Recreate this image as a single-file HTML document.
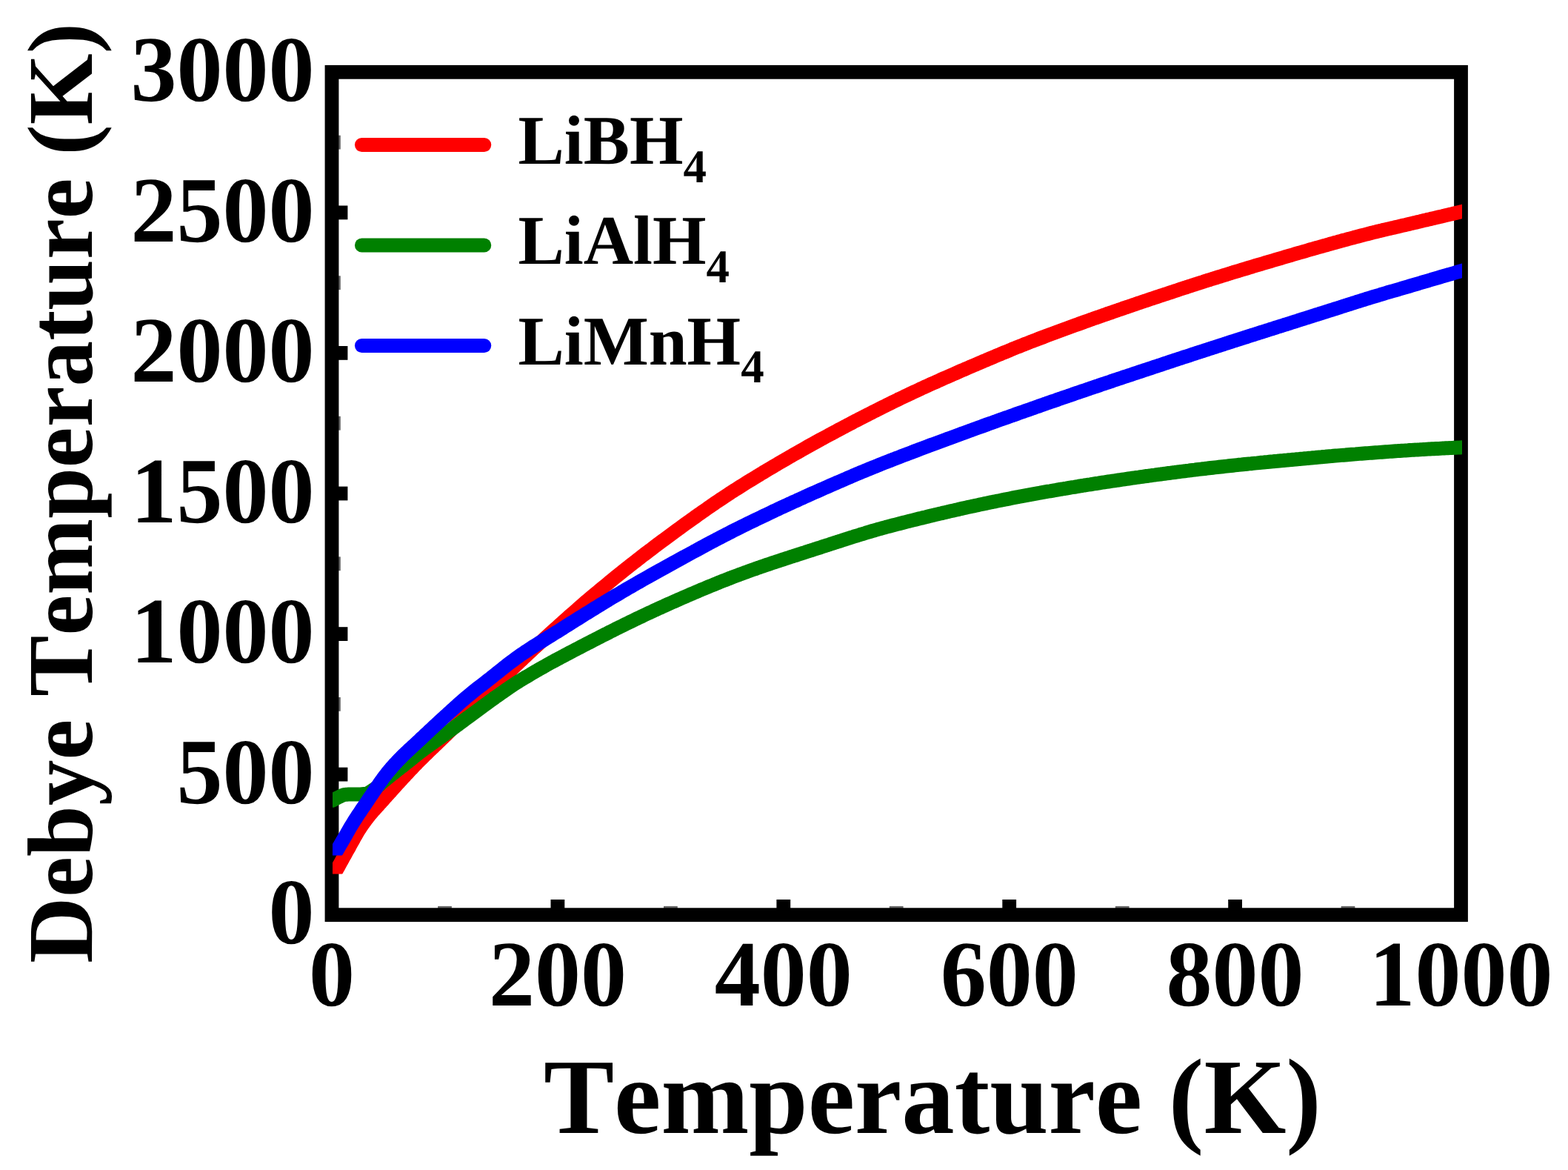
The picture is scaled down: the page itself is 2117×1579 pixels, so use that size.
<!DOCTYPE html>
<html lang="en"><head><meta charset="utf-8"><title>Debye Temperature vs Temperature</title>
<style>
html,body{margin:0;padding:0;background:#fff;}
svg{display:block;width:2117px;height:1579px;}
text{font-family:"Liberation Serif","DejaVu Serif",serif;font-weight:bold;fill:#000;font-kerning:none;font-variant-ligatures:none;text-rendering:geometricPrecision;}
</style></head>
<body>
<svg xmlns="http://www.w3.org/2000/svg" width="2117" height="1579" viewBox="0 0 2117 1579">
<rect x="0" y="0" width="2117" height="1579" fill="#fff"/>
<rect x="448.0" y="97.3" width="1524.5" height="1137.4" fill="none" stroke="#000" stroke-width="18.8"/>
<g fill="#000">
<rect x="456.4" y="1035.7" width="13.0" height="18.8"/>
<rect x="456.4" y="846.2" width="13.0" height="18.8"/>
<rect x="456.4" y="656.6" width="13.0" height="18.8"/>
<rect x="456.4" y="467.0" width="13.0" height="18.8"/>
<rect x="456.4" y="277.5" width="13.0" height="18.8"/>
<rect x="743.5" y="1214.0" width="18.8" height="12.3"/>
<rect x="1048.4" y="1214.0" width="18.8" height="12.3"/>
<rect x="1353.3" y="1214.0" width="18.8" height="12.3"/>
<rect x="1658.2" y="1214.0" width="18.8" height="12.3"/>
</g>
<g fill="#000" opacity="0.6">
<rect x="456.4" y="1130.5" width="3.4" height="18.8"/>
<rect x="456.4" y="941.0" width="3.4" height="18.8"/>
<rect x="456.4" y="751.4" width="3.4" height="18.8"/>
<rect x="456.4" y="561.8" width="3.4" height="18.8"/>
<rect x="456.4" y="372.3" width="3.4" height="18.8"/>
<rect x="456.4" y="182.7" width="3.4" height="18.8"/>
<rect x="591.1" y="1222.9" width="18.8" height="3.4"/>
<rect x="896.0" y="1222.9" width="18.8" height="3.4"/>
<rect x="1200.8" y="1222.9" width="18.8" height="3.4"/>
<rect x="1505.8" y="1222.9" width="18.8" height="3.4"/>
<rect x="1810.6" y="1222.9" width="18.8" height="3.4"/>
</g>
<clipPath id="clip0"><rect x="449" y="97.3" width="1525" height="1082.3"/></clipPath>
<path d="M445.0,1191.2 L446.5,1188.5 L447.9,1185.9 L449.4,1183.2 L450.9,1180.5 L452.4,1177.9 L453.8,1175.2 L455.3,1172.5 L456.8,1169.8 L458.2,1167.2 L459.7,1164.5 L461.2,1161.8 L462.6,1159.2 L464.1,1156.5 L465.6,1153.9 L467.1,1151.2 L468.5,1148.6 L470.0,1146.0 L471.5,1143.4 L472.9,1140.7 L474.4,1138.0 L475.9,1135.3 L477.4,1132.7 L478.8,1130.0 L480.3,1127.4 L481.8,1124.9 L483.2,1122.4 L484.7,1120.0 L486.2,1117.7 L487.6,1115.5 L489.1,1113.4 L490.6,1111.3 L492.1,1109.3 L493.5,1107.3 L495.0,1105.3 L496.5,1103.4 L497.9,1101.6 L499.4,1099.7 L500.9,1097.9 L502.4,1096.2 L503.8,1094.5 L505.3,1092.9 L506.8,1091.3 L508.2,1089.7 L509.7,1088.1 L511.2,1086.4 L512.6,1084.8 L514.1,1083.2 L515.6,1081.5 L517.1,1079.9 L518.5,1078.2 L520.0,1076.6 L521.5,1075.0 L522.9,1073.3 L524.4,1071.7 L525.9,1070.0 L527.4,1068.4 L528.8,1066.8 L530.3,1065.1 L531.8,1063.5 L533.2,1061.9 L534.7,1060.2 L536.2,1058.6 L537.6,1057.0 L539.1,1055.4 L540.6,1053.8 L542.1,1052.2 L543.5,1050.6 L545.0,1049.0 L546.5,1047.4 L547.9,1045.8 L549.4,1044.2 L550.9,1042.7 L552.4,1041.1 L553.8,1039.6 L555.3,1038.0 L556.8,1036.5 L558.2,1034.9 L559.7,1033.4 L561.2,1031.9 L562.6,1030.4 L564.1,1028.9 L565.6,1027.4 L567.1,1025.9 L568.5,1024.5 L570.0,1023.0 L571.5,1021.5 L572.9,1020.1 L574.4,1018.6 L575.9,1017.2 L577.4,1015.8 L578.8,1014.3 L580.3,1012.9 L581.8,1011.5 L583.2,1010.1 L584.7,1008.7 L586.2,1007.3 L587.6,1005.9 L589.1,1004.5 L590.6,1003.1 L592.1,1001.6 L593.5,1000.2 L595.0,998.8 L596.5,997.4 L597.9,996.0 L599.4,994.6 L600.9,993.1 L602.4,991.7 L603.8,990.3 L605.3,988.9 L606.8,987.4 L608.2,986.0 L609.7,984.6 L611.2,983.1 L612.6,981.7 L614.1,980.3 L615.6,978.8 L617.1,977.4 L618.5,976.0 L620.0,974.5 L622.7,971.8 L625.4,969.1 L628.1,966.4 L630.9,963.7 L633.6,961.0 L636.3,958.3 L639.0,955.5 L641.7,952.8 L644.4,950.0 L647.1,947.3 L649.8,944.5 L652.6,941.8 L655.3,939.0 L658.0,936.3 L660.7,933.5 L663.4,930.8 L666.1,928.0 L668.8,925.3 L671.6,922.6 L674.3,919.9 L677.0,917.1 L679.7,914.4 L682.4,911.8 L685.1,909.1 L687.8,906.4 L690.5,903.8 L693.3,901.1 L696.0,898.5 L698.7,895.9 L701.4,893.4 L704.1,890.8 L706.8,888.2 L709.5,885.7 L712.3,883.1 L715.0,880.6 L717.7,878.1 L720.4,875.5 L723.1,873.0 L725.8,870.5 L728.5,868.0 L731.3,865.5 L734.0,863.0 L736.7,860.5 L739.4,858.0 L742.1,855.5 L744.8,853.0 L747.5,850.6 L750.2,848.1 L753.0,845.7 L755.7,843.2 L758.4,840.8 L761.1,838.4 L763.8,835.9 L766.5,833.5 L769.2,831.1 L772.0,828.7 L774.7,826.4 L777.4,824.0 L780.1,821.6 L782.8,819.3 L785.5,816.9 L788.2,814.6 L790.9,812.2 L793.7,809.9 L796.4,807.6 L799.1,805.3 L801.8,803.0 L804.5,800.7 L807.2,798.5 L809.9,796.2 L812.7,794.0 L815.4,791.7 L818.1,789.5 L820.8,787.3 L823.5,785.0 L826.2,782.8 L828.9,780.6 L831.6,778.4 L834.4,776.2 L837.1,774.1 L839.8,771.9 L842.5,769.7 L845.2,767.6 L847.9,765.4 L850.6,763.3 L853.4,761.2 L856.1,759.0 L858.8,756.9 L861.5,754.8 L864.2,752.7 L866.9,750.6 L869.6,748.5 L872.3,746.5 L875.1,744.4 L877.8,742.3 L880.5,740.3 L883.2,738.2 L885.9,736.2 L888.6,734.1 L891.3,732.1 L894.1,730.1 L896.8,728.1 L899.5,726.1 L902.2,724.1 L904.9,722.1 L907.6,720.1 L910.3,718.1 L913.1,716.1 L915.8,714.1 L918.5,712.2 L921.2,710.2 L923.9,708.2 L926.6,706.2 L929.3,704.3 L932.0,702.3 L934.8,700.4 L937.5,698.5 L940.2,696.5 L942.9,694.6 L945.6,692.7 L948.3,690.8 L951.0,688.9 L953.8,687.0 L956.5,685.1 L959.2,683.2 L961.9,681.3 L964.6,679.5 L967.3,677.6 L970.0,675.8 L972.7,674.0 L975.5,672.2 L978.2,670.4 L980.9,668.6 L983.6,666.8 L986.3,665.0 L989.0,663.3 L991.7,661.5 L994.5,659.8 L997.2,658.1 L999.9,656.4 L1002.6,654.7 L1005.3,653.0 L1008.0,651.3 L1010.7,649.6 L1013.4,648.0 L1016.2,646.3 L1018.9,644.7 L1021.6,643.0 L1024.3,641.4 L1027.0,639.7 L1029.7,638.1 L1032.4,636.4 L1035.2,634.8 L1037.9,633.2 L1040.6,631.6 L1043.3,630.0 L1046.0,628.4 L1048.7,626.8 L1051.4,625.2 L1054.1,623.6 L1056.9,622.0 L1059.6,620.5 L1062.3,618.9 L1065.0,617.3 L1067.7,615.8 L1070.4,614.2 L1073.1,612.6 L1075.9,611.1 L1078.6,609.6 L1081.3,608.0 L1084.0,606.5 L1086.7,605.0 L1089.4,603.4 L1092.1,601.9 L1094.8,600.4 L1097.6,598.9 L1100.3,597.4 L1103.0,595.9 L1105.7,594.4 L1108.4,592.9 L1111.1,591.5 L1113.8,590.0 L1116.6,588.5 L1119.3,587.0 L1122.0,585.6 L1124.7,584.1 L1127.4,582.7 L1130.1,581.2 L1132.8,579.8 L1135.6,578.3 L1138.3,576.9 L1141.0,575.5 L1143.7,574.0 L1146.4,572.6 L1149.1,571.2 L1151.8,569.8 L1154.5,568.3 L1157.3,566.9 L1160.0,565.5 L1162.7,564.1 L1165.4,562.7 L1168.1,561.4 L1170.8,560.0 L1173.5,558.6 L1176.3,557.2 L1179.0,555.8 L1181.7,554.5 L1184.4,553.1 L1187.1,551.7 L1189.8,550.4 L1192.5,549.0 L1195.2,547.7 L1198.0,546.3 L1200.7,545.0 L1203.4,543.6 L1206.1,542.3 L1208.8,541.0 L1211.5,539.7 L1214.2,538.3 L1217.0,537.0 L1219.7,535.7 L1222.4,534.4 L1225.1,533.2 L1227.8,531.9 L1230.5,530.6 L1233.2,529.3 L1235.9,528.1 L1238.7,526.8 L1241.4,525.5 L1244.1,524.3 L1246.8,523.0 L1249.5,521.8 L1252.2,520.6 L1254.9,519.3 L1257.7,518.1 L1260.4,516.9 L1263.1,515.7 L1265.8,514.5 L1268.5,513.2 L1271.2,512.0 L1273.9,510.8 L1276.6,509.6 L1279.4,508.4 L1282.1,507.2 L1284.8,506.1 L1287.5,504.9 L1290.2,503.7 L1292.9,502.5 L1295.6,501.3 L1298.4,500.1 L1301.1,499.0 L1303.8,497.8 L1306.5,496.6 L1309.2,495.4 L1311.9,494.3 L1314.6,493.1 L1317.4,491.9 L1320.1,490.8 L1322.8,489.6 L1325.5,488.5 L1328.2,487.3 L1330.9,486.2 L1333.6,485.0 L1336.3,483.9 L1339.1,482.7 L1341.8,481.6 L1344.5,480.4 L1347.2,479.3 L1349.9,478.2 L1352.6,477.0 L1355.3,475.9 L1358.1,474.8 L1360.8,473.7 L1363.5,472.6 L1366.2,471.4 L1368.9,470.3 L1371.6,469.2 L1374.3,468.2 L1377.0,467.1 L1379.8,466.0 L1382.5,464.9 L1385.2,463.8 L1387.9,462.8 L1390.6,461.7 L1393.3,460.7 L1396.0,459.6 L1398.8,458.6 L1401.5,457.5 L1404.2,456.5 L1406.9,455.5 L1409.6,454.5 L1412.3,453.4 L1415.0,452.4 L1417.7,451.4 L1420.5,450.4 L1423.2,449.4 L1425.9,448.4 L1428.6,447.4 L1431.3,446.4 L1434.0,445.4 L1436.7,444.4 L1439.5,443.4 L1442.2,442.4 L1444.9,441.4 L1447.6,440.4 L1450.3,439.4 L1453.0,438.4 L1455.7,437.5 L1458.4,436.5 L1461.2,435.5 L1463.9,434.5 L1466.6,433.6 L1469.3,432.6 L1472.0,431.6 L1474.7,430.7 L1477.4,429.7 L1480.2,428.7 L1482.9,427.8 L1485.6,426.8 L1488.3,425.9 L1491.0,424.9 L1493.7,424.0 L1496.4,423.0 L1499.2,422.1 L1501.9,421.2 L1504.6,420.2 L1507.3,419.3 L1510.0,418.3 L1512.7,417.4 L1515.4,416.5 L1518.1,415.5 L1520.9,414.6 L1523.6,413.7 L1526.3,412.8 L1529.0,411.8 L1531.7,410.9 L1534.4,410.0 L1537.1,409.1 L1539.9,408.2 L1542.6,407.2 L1545.3,406.3 L1548.0,405.4 L1550.7,404.5 L1553.4,403.6 L1556.1,402.7 L1558.8,401.8 L1561.6,400.9 L1564.3,400.0 L1567.0,399.1 L1569.7,398.2 L1572.4,397.3 L1575.1,396.4 L1577.8,395.5 L1580.6,394.6 L1583.3,393.7 L1586.0,392.8 L1588.7,391.9 L1591.4,391.0 L1594.1,390.1 L1596.8,389.2 L1599.5,388.3 L1602.3,387.5 L1605.0,386.6 L1607.7,385.7 L1610.4,384.8 L1613.1,383.9 L1615.8,383.1 L1618.5,382.2 L1621.3,381.3 L1624.0,380.5 L1626.7,379.6 L1629.4,378.7 L1632.1,377.9 L1634.8,377.0 L1637.5,376.2 L1640.2,375.3 L1643.0,374.5 L1645.7,373.6 L1648.4,372.8 L1651.1,371.9 L1653.8,371.1 L1656.5,370.3 L1659.2,369.4 L1662.0,368.6 L1664.7,367.7 L1667.4,366.9 L1670.1,366.1 L1672.8,365.3 L1675.5,364.4 L1678.2,363.6 L1680.9,362.8 L1683.7,362.0 L1686.4,361.2 L1689.1,360.4 L1691.8,359.5 L1694.5,358.7 L1697.2,357.9 L1699.9,357.1 L1702.7,356.3 L1705.4,355.5 L1708.1,354.7 L1710.8,353.9 L1713.5,353.1 L1716.2,352.3 L1718.9,351.5 L1721.7,350.7 L1724.4,349.9 L1727.1,349.1 L1729.8,348.3 L1732.5,347.5 L1735.2,346.7 L1737.9,345.9 L1740.6,345.1 L1743.4,344.3 L1746.1,343.5 L1748.8,342.7 L1751.5,341.9 L1754.2,341.1 L1756.9,340.4 L1759.6,339.6 L1762.4,338.8 L1765.1,338.0 L1767.8,337.2 L1770.5,336.4 L1773.2,335.7 L1775.9,334.9 L1778.6,334.1 L1781.3,333.4 L1784.1,332.6 L1786.8,331.8 L1789.5,331.1 L1792.2,330.3 L1794.9,329.5 L1797.6,328.8 L1800.3,328.0 L1803.1,327.3 L1805.8,326.5 L1808.5,325.8 L1811.2,325.0 L1813.9,324.3 L1816.6,323.6 L1819.3,322.8 L1822.0,322.1 L1824.8,321.4 L1827.5,320.7 L1830.2,319.9 L1832.9,319.2 L1835.6,318.5 L1838.3,317.8 L1841.0,317.1 L1843.8,316.4 L1846.5,315.7 L1849.2,315.0 L1851.9,314.3 L1854.6,313.6 L1857.3,313.0 L1860.0,312.3 L1862.7,311.6 L1865.5,311.0 L1868.2,310.3 L1870.9,309.7 L1873.6,309.1 L1876.3,308.4 L1879.0,307.8 L1881.7,307.2 L1884.5,306.5 L1887.2,305.9 L1889.9,305.3 L1892.6,304.6 L1895.3,304.0 L1898.0,303.4 L1900.7,302.7 L1903.5,302.1 L1906.2,301.4 L1908.9,300.8 L1911.6,300.2 L1914.3,299.5 L1917.0,298.9 L1919.7,298.2 L1922.4,297.6 L1925.2,297.0 L1927.9,296.3 L1930.6,295.7 L1933.3,295.0 L1936.0,294.4 L1938.7,293.8 L1941.4,293.1 L1944.2,292.5 L1946.9,291.9 L1949.6,291.2 L1952.3,290.6 L1955.0,289.9 L1957.7,289.3 L1960.4,288.7 L1963.1,288.0 L1965.9,287.4 L1968.6,286.8 L1971.3,286.1 L1974.0,285.5 L1990.0,281.8" fill="none" stroke="#ff0000" stroke-width="19.0" stroke-linejoin="round" stroke-linecap="butt" clip-path="url(#clip0)"/>
<clipPath id="clip1"><rect x="449" y="97.3" width="1525" height="992.5"/></clipPath>
<path d="M440.0,1084.5 L441.5,1083.8 L443.0,1083.0 L444.5,1082.3 L446.1,1081.6 L447.6,1080.8 L449.1,1080.1 L450.6,1079.3 L452.1,1078.5 L453.6,1077.7 L455.1,1076.9 L456.6,1076.1 L458.2,1075.4 L459.7,1074.7 L461.2,1073.9 L462.7,1073.2 L464.2,1072.6 L465.7,1072.4 L467.2,1072.3 L468.7,1072.2 L470.3,1072.1 L471.8,1072.1 L473.3,1072.0 L474.8,1072.0 L476.3,1072.0 L477.8,1072.0 L479.3,1072.0 L480.8,1072.0 L482.4,1072.0 L483.9,1072.0 L485.4,1072.0 L486.9,1071.9 L488.4,1071.8 L489.9,1071.7 L491.4,1071.5 L492.9,1071.3 L494.5,1071.1 L496.0,1070.7 L497.5,1070.0 L499.0,1069.1 L500.5,1068.1 L502.0,1067.1 L503.5,1066.2 L505.0,1065.1 L506.6,1064.0 L508.1,1062.8 L509.6,1061.6 L511.1,1060.3 L512.6,1059.0 L514.1,1057.6 L515.6,1056.3 L517.1,1055.0 L518.7,1053.7 L520.2,1052.5 L521.7,1051.2 L523.2,1050.0 L524.7,1048.8 L526.2,1047.6 L527.7,1046.4 L529.2,1045.2 L530.8,1044.0 L532.3,1042.8 L533.8,1041.6 L535.3,1040.4 L536.8,1039.2 L538.3,1038.0 L539.8,1036.8 L541.3,1035.6 L542.9,1034.5 L544.4,1033.3 L545.9,1032.1 L547.4,1030.9 L548.9,1029.7 L550.4,1028.5 L551.9,1027.3 L553.4,1026.1 L555.0,1024.9 L556.5,1023.7 L558.0,1022.4 L559.5,1021.2 L561.0,1020.0 L562.5,1018.8 L564.0,1017.6 L565.5,1016.4 L567.1,1015.2 L568.6,1014.1 L570.1,1012.9 L571.6,1011.8 L573.1,1010.7 L574.6,1009.6 L576.1,1008.5 L577.6,1007.4 L579.2,1006.3 L580.7,1005.2 L582.2,1004.1 L583.7,1003.0 L585.2,1002.0 L586.7,1000.9 L588.2,999.8 L589.7,998.8 L591.3,997.7 L592.8,996.7 L594.3,995.6 L595.8,994.5 L597.3,993.4 L598.8,992.3 L600.3,991.3 L601.8,990.2 L603.4,989.1 L604.9,988.0 L606.4,986.9 L607.9,985.8 L609.4,984.7 L610.9,983.5 L612.4,982.4 L613.9,981.3 L615.5,980.2 L617.0,979.1 L618.5,978.0 L620.0,976.9 L622.7,974.9 L625.4,972.9 L628.1,970.8 L630.9,968.8 L633.6,966.8 L636.3,964.8 L639.0,962.8 L641.7,960.8 L644.4,958.8 L647.1,956.8 L649.8,954.8 L652.6,952.8 L655.3,950.8 L658.0,948.9 L660.7,946.9 L663.4,944.9 L666.1,943.0 L668.8,941.0 L671.6,939.1 L674.3,937.2 L677.0,935.3 L679.7,933.4 L682.4,931.5 L685.1,929.7 L687.8,927.8 L690.5,925.9 L693.3,924.1 L696.0,922.3 L698.7,920.6 L701.4,918.9 L704.1,917.3 L706.8,915.6 L709.5,914.0 L712.3,912.4 L715.0,910.8 L717.7,909.2 L720.4,907.6 L723.1,906.0 L725.8,904.5 L728.5,902.9 L731.3,901.4 L734.0,899.9 L736.7,898.3 L739.4,896.8 L742.1,895.3 L744.8,893.8 L747.5,892.4 L750.2,890.9 L753.0,889.4 L755.7,888.0 L758.4,886.5 L761.1,885.1 L763.8,883.6 L766.5,882.2 L769.2,880.8 L772.0,879.3 L774.7,877.9 L777.4,876.5 L780.1,875.1 L782.8,873.7 L785.5,872.3 L788.2,870.9 L790.9,869.5 L793.7,868.1 L796.4,866.7 L799.1,865.3 L801.8,863.9 L804.5,862.5 L807.2,861.1 L809.9,859.7 L812.7,858.3 L815.4,856.9 L818.1,855.6 L820.8,854.2 L823.5,852.8 L826.2,851.5 L828.9,850.1 L831.6,848.7 L834.4,847.4 L837.1,846.0 L839.8,844.7 L842.5,843.4 L845.2,842.0 L847.9,840.7 L850.6,839.4 L853.4,838.1 L856.1,836.8 L858.8,835.4 L861.5,834.1 L864.2,832.9 L866.9,831.6 L869.6,830.3 L872.3,829.0 L875.1,827.7 L877.8,826.5 L880.5,825.2 L883.2,823.9 L885.9,822.7 L888.6,821.4 L891.3,820.2 L894.1,819.0 L896.8,817.7 L899.5,816.5 L902.2,815.3 L904.9,814.1 L907.6,812.9 L910.3,811.7 L913.1,810.5 L915.8,809.3 L918.5,808.1 L921.2,806.9 L923.9,805.7 L926.6,804.6 L929.3,803.4 L932.0,802.2 L934.8,801.1 L937.5,799.9 L940.2,798.7 L942.9,797.6 L945.6,796.4 L948.3,795.3 L951.0,794.2 L953.8,793.0 L956.5,791.9 L959.2,790.8 L961.9,789.7 L964.6,788.6 L967.3,787.5 L970.0,786.4 L972.7,785.3 L975.5,784.2 L978.2,783.2 L980.9,782.1 L983.6,781.0 L986.3,780.0 L989.0,778.9 L991.7,777.9 L994.5,776.9 L997.2,775.9 L999.9,774.8 L1002.6,773.8 L1005.3,772.8 L1008.0,771.9 L1010.7,770.9 L1013.4,769.9 L1016.2,768.9 L1018.9,768.0 L1021.6,767.0 L1024.3,766.1 L1027.0,765.1 L1029.7,764.2 L1032.4,763.3 L1035.2,762.3 L1037.9,761.4 L1040.6,760.5 L1043.3,759.6 L1046.0,758.7 L1048.7,757.8 L1051.4,756.9 L1054.1,756.0 L1056.9,755.1 L1059.6,754.2 L1062.3,753.3 L1065.0,752.5 L1067.7,751.6 L1070.4,750.7 L1073.1,749.8 L1075.9,749.0 L1078.6,748.1 L1081.3,747.2 L1084.0,746.3 L1086.7,745.5 L1089.4,744.6 L1092.1,743.7 L1094.8,742.9 L1097.6,742.0 L1100.3,741.1 L1103.0,740.2 L1105.7,739.4 L1108.4,738.5 L1111.1,737.6 L1113.8,736.7 L1116.6,735.8 L1119.3,735.0 L1122.0,734.1 L1124.7,733.2 L1127.4,732.3 L1130.1,731.4 L1132.8,730.6 L1135.6,729.7 L1138.3,728.8 L1141.0,727.9 L1143.7,727.1 L1146.4,726.2 L1149.1,725.3 L1151.8,724.5 L1154.5,723.6 L1157.3,722.8 L1160.0,722.0 L1162.7,721.1 L1165.4,720.3 L1168.1,719.5 L1170.8,718.6 L1173.5,717.8 L1176.3,717.0 L1179.0,716.2 L1181.7,715.5 L1184.4,714.7 L1187.1,713.9 L1189.8,713.2 L1192.5,712.4 L1195.2,711.7 L1198.0,710.9 L1200.7,710.2 L1203.4,709.5 L1206.1,708.8 L1208.8,708.1 L1211.5,707.4 L1214.2,706.7 L1217.0,706.0 L1219.7,705.3 L1222.4,704.6 L1225.1,703.9 L1227.8,703.2 L1230.5,702.6 L1233.2,701.9 L1235.9,701.2 L1238.7,700.5 L1241.4,699.8 L1244.1,699.2 L1246.8,698.5 L1249.5,697.9 L1252.2,697.2 L1254.9,696.5 L1257.7,695.9 L1260.4,695.2 L1263.1,694.6 L1265.8,693.9 L1268.5,693.3 L1271.2,692.7 L1273.9,692.0 L1276.6,691.4 L1279.4,690.8 L1282.1,690.1 L1284.8,689.5 L1287.5,688.9 L1290.2,688.3 L1292.9,687.7 L1295.6,687.0 L1298.4,686.4 L1301.1,685.8 L1303.8,685.2 L1306.5,684.6 L1309.2,684.0 L1311.9,683.4 L1314.6,682.9 L1317.4,682.3 L1320.1,681.7 L1322.8,681.1 L1325.5,680.5 L1328.2,679.9 L1330.9,679.4 L1333.6,678.8 L1336.3,678.2 L1339.1,677.7 L1341.8,677.1 L1344.5,676.6 L1347.2,676.0 L1349.9,675.5 L1352.6,674.9 L1355.3,674.4 L1358.1,673.8 L1360.8,673.3 L1363.5,672.8 L1366.2,672.2 L1368.9,671.7 L1371.6,671.2 L1374.3,670.7 L1377.0,670.1 L1379.8,669.6 L1382.5,669.1 L1385.2,668.6 L1387.9,668.1 L1390.6,667.6 L1393.3,667.1 L1396.0,666.6 L1398.8,666.1 L1401.5,665.6 L1404.2,665.2 L1406.9,664.7 L1409.6,664.2 L1412.3,663.7 L1415.0,663.2 L1417.7,662.8 L1420.5,662.3 L1423.2,661.8 L1425.9,661.4 L1428.6,660.9 L1431.3,660.4 L1434.0,660.0 L1436.7,659.5 L1439.5,659.1 L1442.2,658.6 L1444.9,658.1 L1447.6,657.7 L1450.3,657.3 L1453.0,656.8 L1455.7,656.4 L1458.4,655.9 L1461.2,655.5 L1463.9,655.0 L1466.6,654.6 L1469.3,654.2 L1472.0,653.8 L1474.7,653.3 L1477.4,652.9 L1480.2,652.5 L1482.9,652.1 L1485.6,651.6 L1488.3,651.2 L1491.0,650.8 L1493.7,650.4 L1496.4,650.0 L1499.2,649.6 L1501.9,649.2 L1504.6,648.8 L1507.3,648.4 L1510.0,648.0 L1512.7,647.6 L1515.4,647.2 L1518.1,646.8 L1520.9,646.4 L1523.6,646.0 L1526.3,645.6 L1529.0,645.2 L1531.7,644.8 L1534.4,644.4 L1537.1,644.1 L1539.9,643.7 L1542.6,643.3 L1545.3,642.9 L1548.0,642.5 L1550.7,642.2 L1553.4,641.8 L1556.1,641.4 L1558.8,641.1 L1561.6,640.7 L1564.3,640.3 L1567.0,640.0 L1569.7,639.6 L1572.4,639.3 L1575.1,638.9 L1577.8,638.5 L1580.6,638.2 L1583.3,637.8 L1586.0,637.5 L1588.7,637.1 L1591.4,636.8 L1594.1,636.4 L1596.8,636.1 L1599.5,635.8 L1602.3,635.4 L1605.0,635.1 L1607.7,634.7 L1610.4,634.4 L1613.1,634.1 L1615.8,633.7 L1618.5,633.4 L1621.3,633.1 L1624.0,632.8 L1626.7,632.5 L1629.4,632.1 L1632.1,631.8 L1634.8,631.5 L1637.5,631.2 L1640.2,630.9 L1643.0,630.6 L1645.7,630.3 L1648.4,630.0 L1651.1,629.7 L1653.8,629.4 L1656.5,629.1 L1659.2,628.8 L1662.0,628.5 L1664.7,628.2 L1667.4,627.9 L1670.1,627.6 L1672.8,627.3 L1675.5,627.1 L1678.2,626.8 L1680.9,626.5 L1683.7,626.2 L1686.4,625.9 L1689.1,625.7 L1691.8,625.4 L1694.5,625.1 L1697.2,624.9 L1699.9,624.6 L1702.7,624.3 L1705.4,624.1 L1708.1,623.8 L1710.8,623.6 L1713.5,623.3 L1716.2,623.0 L1718.9,622.8 L1721.7,622.5 L1724.4,622.3 L1727.1,622.0 L1729.8,621.7 L1732.5,621.5 L1735.2,621.2 L1737.9,621.0 L1740.6,620.7 L1743.4,620.5 L1746.1,620.2 L1748.8,620.0 L1751.5,619.7 L1754.2,619.5 L1756.9,619.2 L1759.6,619.0 L1762.4,618.7 L1765.1,618.5 L1767.8,618.2 L1770.5,618.0 L1773.2,617.7 L1775.9,617.5 L1778.6,617.2 L1781.3,617.0 L1784.1,616.8 L1786.8,616.5 L1789.5,616.3 L1792.2,616.0 L1794.9,615.8 L1797.6,615.6 L1800.3,615.3 L1803.1,615.1 L1805.8,614.9 L1808.5,614.6 L1811.2,614.4 L1813.9,614.2 L1816.6,614.0 L1819.3,613.7 L1822.0,613.5 L1824.8,613.3 L1827.5,613.1 L1830.2,612.9 L1832.9,612.6 L1835.6,612.4 L1838.3,612.2 L1841.0,612.0 L1843.8,611.8 L1846.5,611.6 L1849.2,611.4 L1851.9,611.2 L1854.6,611.0 L1857.3,610.8 L1860.0,610.6 L1862.7,610.4 L1865.5,610.2 L1868.2,610.0 L1870.9,609.8 L1873.6,609.6 L1876.3,609.4 L1879.0,609.2 L1881.7,609.0 L1884.5,608.8 L1887.2,608.6 L1889.9,608.5 L1892.6,608.3 L1895.3,608.1 L1898.0,607.9 L1900.7,607.8 L1903.5,607.6 L1906.2,607.4 L1908.9,607.2 L1911.6,607.1 L1914.3,606.9 L1917.0,606.8 L1919.7,606.6 L1922.4,606.4 L1925.2,606.3 L1927.9,606.1 L1930.6,606.0 L1933.3,605.8 L1936.0,605.7 L1938.7,605.5 L1941.4,605.4 L1944.2,605.3 L1946.9,605.1 L1949.6,605.0 L1952.3,604.8 L1955.0,604.7 L1957.7,604.6 L1960.4,604.4 L1963.1,604.3 L1965.9,604.2 L1968.6,604.1 L1971.3,603.9 L1974.0,603.8 L1990.0,603.1" fill="none" stroke="#008000" stroke-width="19.0" stroke-linejoin="round" stroke-linecap="butt" clip-path="url(#clip1)"/>
<clipPath id="clip2"><rect x="449" y="97.3" width="1525" height="1057.1"/></clipPath>
<path d="M445.0,1165.0 L446.5,1162.4 L447.9,1159.8 L449.4,1157.3 L450.9,1154.7 L452.4,1152.2 L453.8,1149.6 L455.3,1147.1 L456.8,1144.6 L458.2,1142.1 L459.7,1139.5 L461.2,1137.0 L462.6,1134.5 L464.1,1132.0 L465.6,1129.4 L467.1,1126.9 L468.5,1124.3 L470.0,1121.7 L471.5,1119.1 L472.9,1116.6 L474.4,1114.1 L475.9,1111.7 L477.4,1109.3 L478.8,1107.0 L480.3,1104.7 L481.8,1102.4 L483.2,1100.2 L484.7,1098.0 L486.2,1095.8 L487.6,1093.6 L489.1,1091.4 L490.6,1089.3 L492.1,1087.1 L493.5,1084.9 L495.0,1082.8 L496.5,1080.6 L497.9,1078.4 L499.4,1076.2 L500.9,1074.0 L502.4,1071.8 L503.8,1069.6 L505.3,1067.4 L506.8,1065.3 L508.2,1063.1 L509.7,1061.0 L511.2,1058.9 L512.6,1056.8 L514.1,1054.7 L515.6,1052.7 L517.1,1050.6 L518.5,1048.7 L520.0,1046.7 L521.5,1044.8 L522.9,1042.9 L524.4,1041.1 L525.9,1039.3 L527.4,1037.6 L528.8,1035.9 L530.3,1034.2 L531.8,1032.6 L533.2,1030.9 L534.7,1029.4 L536.2,1027.8 L537.6,1026.2 L539.1,1024.7 L540.6,1023.2 L542.1,1021.7 L543.5,1020.2 L545.0,1018.8 L546.5,1017.4 L547.9,1016.0 L549.4,1014.6 L550.9,1013.2 L552.4,1011.8 L553.8,1010.5 L555.3,1009.1 L556.8,1007.8 L558.2,1006.4 L559.7,1005.1 L561.2,1003.7 L562.6,1002.4 L564.1,1001.0 L565.6,999.6 L567.1,998.2 L568.5,996.8 L570.0,995.5 L571.5,994.1 L572.9,992.7 L574.4,991.3 L575.9,989.9 L577.4,988.6 L578.8,987.2 L580.3,985.8 L581.8,984.4 L583.2,983.1 L584.7,981.7 L586.2,980.3 L587.6,979.0 L589.1,977.6 L590.6,976.2 L592.1,974.9 L593.5,973.5 L595.0,972.2 L596.5,970.8 L597.9,969.5 L599.4,968.1 L600.9,966.8 L602.4,965.5 L603.8,964.1 L605.3,962.8 L606.8,961.4 L608.2,960.1 L609.7,958.7 L611.2,957.4 L612.6,956.1 L614.1,954.7 L615.6,953.4 L617.1,952.1 L618.5,950.8 L620.0,949.4 L622.7,947.0 L625.4,944.7 L628.1,942.3 L630.9,940.0 L633.6,937.8 L636.3,935.6 L639.0,933.4 L641.7,931.2 L644.4,929.1 L647.1,927.0 L649.8,924.9 L652.6,922.8 L655.3,920.7 L658.0,918.6 L660.7,916.5 L663.4,914.3 L666.1,912.2 L668.8,910.0 L671.6,907.8 L674.3,905.7 L677.0,903.5 L679.7,901.3 L682.4,899.2 L685.1,897.1 L687.8,895.0 L690.5,892.9 L693.3,890.9 L696.0,888.9 L698.7,886.9 L701.4,885.0 L704.1,883.1 L706.8,881.3 L709.5,879.5 L712.3,877.7 L715.0,875.9 L717.7,874.1 L720.4,872.4 L723.1,870.7 L725.8,869.0 L728.5,867.3 L731.3,865.6 L734.0,863.9 L736.7,862.2 L739.4,860.5 L742.1,858.9 L744.8,857.2 L747.5,855.5 L750.2,853.8 L753.0,852.2 L755.7,850.5 L758.4,848.8 L761.1,847.0 L763.8,845.3 L766.5,843.6 L769.2,841.9 L772.0,840.2 L774.7,838.5 L777.4,836.8 L780.1,835.1 L782.8,833.4 L785.5,831.7 L788.2,830.0 L790.9,828.3 L793.7,826.7 L796.4,825.0 L799.1,823.3 L801.8,821.6 L804.5,819.9 L807.2,818.3 L809.9,816.6 L812.7,814.9 L815.4,813.3 L818.1,811.6 L820.8,810.0 L823.5,808.3 L826.2,806.7 L828.9,805.1 L831.6,803.5 L834.4,801.9 L837.1,800.3 L839.8,798.7 L842.5,797.1 L845.2,795.5 L847.9,793.9 L850.6,792.3 L853.4,790.8 L856.1,789.2 L858.8,787.7 L861.5,786.1 L864.2,784.6 L866.9,783.0 L869.6,781.5 L872.3,780.0 L875.1,778.4 L877.8,776.9 L880.5,775.4 L883.2,773.9 L885.9,772.4 L888.6,770.9 L891.3,769.4 L894.1,767.9 L896.8,766.4 L899.5,764.9 L902.2,763.4 L904.9,761.9 L907.6,760.4 L910.3,758.9 L913.1,757.4 L915.8,755.9 L918.5,754.4 L921.2,752.9 L923.9,751.4 L926.6,750.0 L929.3,748.5 L932.0,747.0 L934.8,745.5 L937.5,744.0 L940.2,742.6 L942.9,741.1 L945.6,739.6 L948.3,738.1 L951.0,736.7 L953.8,735.2 L956.5,733.8 L959.2,732.3 L961.9,730.9 L964.6,729.5 L967.3,728.0 L970.0,726.6 L972.7,725.2 L975.5,723.8 L978.2,722.4 L980.9,721.0 L983.6,719.6 L986.3,718.2 L989.0,716.8 L991.7,715.4 L994.5,714.1 L997.2,712.7 L999.9,711.4 L1002.6,710.0 L1005.3,708.7 L1008.0,707.4 L1010.7,706.0 L1013.4,704.7 L1016.2,703.4 L1018.9,702.1 L1021.6,700.8 L1024.3,699.5 L1027.0,698.2 L1029.7,696.9 L1032.4,695.6 L1035.2,694.3 L1037.9,693.0 L1040.6,691.7 L1043.3,690.4 L1046.0,689.1 L1048.7,687.9 L1051.4,686.6 L1054.1,685.3 L1056.9,684.1 L1059.6,682.8 L1062.3,681.6 L1065.0,680.3 L1067.7,679.1 L1070.4,677.8 L1073.1,676.6 L1075.9,675.4 L1078.6,674.1 L1081.3,672.9 L1084.0,671.7 L1086.7,670.4 L1089.4,669.2 L1092.1,668.0 L1094.8,666.8 L1097.6,665.6 L1100.3,664.4 L1103.0,663.2 L1105.7,662.0 L1108.4,660.8 L1111.1,659.6 L1113.8,658.4 L1116.6,657.2 L1119.3,656.0 L1122.0,654.8 L1124.7,653.6 L1127.4,652.5 L1130.1,651.3 L1132.8,650.1 L1135.6,648.9 L1138.3,647.8 L1141.0,646.6 L1143.7,645.4 L1146.4,644.3 L1149.1,643.1 L1151.8,641.9 L1154.5,640.8 L1157.3,639.6 L1160.0,638.5 L1162.7,637.3 L1165.4,636.2 L1168.1,635.1 L1170.8,634.0 L1173.5,632.9 L1176.3,631.7 L1179.0,630.6 L1181.7,629.6 L1184.4,628.5 L1187.1,627.4 L1189.8,626.3 L1192.5,625.2 L1195.2,624.2 L1198.0,623.1 L1200.7,622.0 L1203.4,621.0 L1206.1,619.9 L1208.8,618.9 L1211.5,617.8 L1214.2,616.8 L1217.0,615.7 L1219.7,614.7 L1222.4,613.7 L1225.1,612.6 L1227.8,611.6 L1230.5,610.6 L1233.2,609.5 L1235.9,608.5 L1238.7,607.5 L1241.4,606.4 L1244.1,605.4 L1246.8,604.4 L1249.5,603.4 L1252.2,602.4 L1254.9,601.3 L1257.7,600.3 L1260.4,599.3 L1263.1,598.3 L1265.8,597.3 L1268.5,596.3 L1271.2,595.3 L1273.9,594.3 L1276.6,593.3 L1279.4,592.3 L1282.1,591.3 L1284.8,590.3 L1287.5,589.3 L1290.2,588.3 L1292.9,587.3 L1295.6,586.3 L1298.4,585.3 L1301.1,584.3 L1303.8,583.3 L1306.5,582.3 L1309.2,581.3 L1311.9,580.4 L1314.6,579.4 L1317.4,578.4 L1320.1,577.4 L1322.8,576.4 L1325.5,575.5 L1328.2,574.5 L1330.9,573.5 L1333.6,572.5 L1336.3,571.6 L1339.1,570.6 L1341.8,569.6 L1344.5,568.7 L1347.2,567.7 L1349.9,566.7 L1352.6,565.7 L1355.3,564.8 L1358.1,563.8 L1360.8,562.9 L1363.5,561.9 L1366.2,560.9 L1368.9,560.0 L1371.6,559.0 L1374.3,558.0 L1377.0,557.1 L1379.8,556.1 L1382.5,555.2 L1385.2,554.2 L1387.9,553.3 L1390.6,552.3 L1393.3,551.3 L1396.0,550.4 L1398.8,549.4 L1401.5,548.5 L1404.2,547.5 L1406.9,546.6 L1409.6,545.6 L1412.3,544.7 L1415.0,543.7 L1417.7,542.8 L1420.5,541.8 L1423.2,540.9 L1425.9,540.0 L1428.6,539.0 L1431.3,538.1 L1434.0,537.1 L1436.7,536.2 L1439.5,535.3 L1442.2,534.3 L1444.9,533.4 L1447.6,532.5 L1450.3,531.5 L1453.0,530.6 L1455.7,529.7 L1458.4,528.8 L1461.2,527.8 L1463.9,526.9 L1466.6,526.0 L1469.3,525.1 L1472.0,524.1 L1474.7,523.2 L1477.4,522.3 L1480.2,521.4 L1482.9,520.5 L1485.6,519.5 L1488.3,518.6 L1491.0,517.7 L1493.7,516.8 L1496.4,515.9 L1499.2,515.0 L1501.9,514.0 L1504.6,513.1 L1507.3,512.2 L1510.0,511.3 L1512.7,510.4 L1515.4,509.5 L1518.1,508.6 L1520.9,507.7 L1523.6,506.8 L1526.3,505.9 L1529.0,505.0 L1531.7,504.1 L1534.4,503.2 L1537.1,502.3 L1539.9,501.4 L1542.6,500.5 L1545.3,499.6 L1548.0,498.7 L1550.7,497.8 L1553.4,496.9 L1556.1,496.0 L1558.8,495.1 L1561.6,494.2 L1564.3,493.3 L1567.0,492.4 L1569.7,491.5 L1572.4,490.6 L1575.1,489.7 L1577.8,488.8 L1580.6,487.9 L1583.3,487.0 L1586.0,486.1 L1588.7,485.2 L1591.4,484.3 L1594.1,483.4 L1596.8,482.5 L1599.5,481.6 L1602.3,480.8 L1605.0,479.9 L1607.7,479.0 L1610.4,478.1 L1613.1,477.2 L1615.8,476.3 L1618.5,475.4 L1621.3,474.6 L1624.0,473.7 L1626.7,472.8 L1629.4,471.9 L1632.1,471.0 L1634.8,470.2 L1637.5,469.3 L1640.2,468.4 L1643.0,467.5 L1645.7,466.7 L1648.4,465.8 L1651.1,464.9 L1653.8,464.0 L1656.5,463.2 L1659.2,462.3 L1662.0,461.4 L1664.7,460.5 L1667.4,459.7 L1670.1,458.8 L1672.8,457.9 L1675.5,457.1 L1678.2,456.2 L1680.9,455.3 L1683.7,454.5 L1686.4,453.6 L1689.1,452.7 L1691.8,451.9 L1694.5,451.0 L1697.2,450.2 L1699.9,449.3 L1702.7,448.4 L1705.4,447.6 L1708.1,446.7 L1710.8,445.8 L1713.5,445.0 L1716.2,444.1 L1718.9,443.3 L1721.7,442.4 L1724.4,441.5 L1727.1,440.7 L1729.8,439.8 L1732.5,439.0 L1735.2,438.1 L1737.9,437.3 L1740.6,436.4 L1743.4,435.5 L1746.1,434.7 L1748.8,433.8 L1751.5,433.0 L1754.2,432.1 L1756.9,431.2 L1759.6,430.4 L1762.4,429.5 L1765.1,428.7 L1767.8,427.8 L1770.5,426.9 L1773.2,426.1 L1775.9,425.2 L1778.6,424.4 L1781.3,423.5 L1784.1,422.7 L1786.8,421.8 L1789.5,420.9 L1792.2,420.1 L1794.9,419.2 L1797.6,418.4 L1800.3,417.5 L1803.1,416.6 L1805.8,415.8 L1808.5,414.9 L1811.2,414.0 L1813.9,413.2 L1816.6,412.3 L1819.3,411.4 L1822.0,410.6 L1824.8,409.7 L1827.5,408.8 L1830.2,408.0 L1832.9,407.1 L1835.6,406.3 L1838.3,405.4 L1841.0,404.6 L1843.8,403.7 L1846.5,402.9 L1849.2,402.1 L1851.9,401.2 L1854.6,400.4 L1857.3,399.6 L1860.0,398.8 L1862.7,398.0 L1865.5,397.1 L1868.2,396.3 L1870.9,395.5 L1873.6,394.7 L1876.3,393.9 L1879.0,393.1 L1881.7,392.4 L1884.5,391.6 L1887.2,390.8 L1889.9,390.0 L1892.6,389.2 L1895.3,388.4 L1898.0,387.6 L1900.7,386.8 L1903.5,386.0 L1906.2,385.2 L1908.9,384.4 L1911.6,383.6 L1914.3,382.8 L1917.0,382.0 L1919.7,381.2 L1922.4,380.4 L1925.2,379.6 L1927.9,378.8 L1930.6,378.0 L1933.3,377.2 L1936.0,376.4 L1938.7,375.6 L1941.4,374.8 L1944.2,374.0 L1946.9,373.2 L1949.6,372.4 L1952.3,371.6 L1955.0,370.8 L1957.7,370.1 L1960.4,369.3 L1963.1,368.5 L1965.9,367.7 L1968.6,366.9 L1971.3,366.1 L1974.0,365.3 L1990.0,360.6" fill="none" stroke="#0000ff" stroke-width="19.0" stroke-linejoin="round" stroke-linecap="butt" clip-path="url(#clip2)"/>
<line x1="488.4" y1="195.5" x2="653.8" y2="195.5" stroke="#ff0000" stroke-width="18.9" stroke-linecap="round"/>
<text transform="translate(699.5,221.1) scale(1,1.01)" font-size="93.3" text-anchor="start">LiBH<tspan font-size="63" dy="24.5">4</tspan></text>
<line x1="488.4" y1="331.0" x2="653.8" y2="331.0" stroke="#008000" stroke-width="18.9" stroke-linecap="round"/>
<text transform="translate(699.5,356.4) scale(1,1.01)" font-size="93.3" text-anchor="start">LiAlH<tspan font-size="63" dy="24.5">4</tspan></text>
<line x1="488.4" y1="466.5" x2="653.8" y2="466.5" stroke="#0000ff" stroke-width="18.9" stroke-linecap="round"/>
<text transform="translate(699.5,491.7) scale(1,1.01)" font-size="93.3" text-anchor="start">LiMnH<tspan font-size="63" dy="24.5">4</tspan></text>
<text transform="translate(424.5,1273.4) scale(1,1.02)" font-size="124.0" text-anchor="end">0</text>
<text transform="translate(424.5,1083.8) scale(1,1.02)" font-size="124.0" text-anchor="end">500</text>
<text transform="translate(424.5,894.3) scale(1,1.02)" font-size="124.0" text-anchor="end">1000</text>
<text transform="translate(424.5,704.7) scale(1,1.02)" font-size="124.0" text-anchor="end">1500</text>
<text transform="translate(424.5,515.1) scale(1,1.02)" font-size="124.0" text-anchor="end">2000</text>
<text transform="translate(424.5,325.6) scale(1,1.02)" font-size="124.0" text-anchor="end">2500</text>
<text transform="translate(424.5,136.0) scale(1,1.02)" font-size="124.0" text-anchor="end">3000</text>
<text transform="translate(448.0,1356.6) scale(1,1.02)" font-size="124.0" text-anchor="middle">0</text>
<text transform="translate(752.9,1356.6) scale(1,1.02)" font-size="124.0" text-anchor="middle">200</text>
<text transform="translate(1057.8,1356.6) scale(1,1.02)" font-size="124.0" text-anchor="middle">400</text>
<text transform="translate(1362.7,1356.6) scale(1,1.02)" font-size="124.0" text-anchor="middle">600</text>
<text transform="translate(1667.6,1356.6) scale(1,1.02)" font-size="124.0" text-anchor="middle">800</text>
<text transform="translate(1972.5,1356.6) scale(1,1.02)" font-size="124.0" text-anchor="middle">1000</text>
<text transform="translate(1258.9,1529.4) scale(1,1.015)" font-size="142.7" text-anchor="middle">Temperature (K)</text>
<text transform="translate(124.1,665.6) rotate(-90) scale(1,1.015)" font-size="123.5" text-anchor="middle">Debye Temperature (K)</text>
</svg>
</body></html>
